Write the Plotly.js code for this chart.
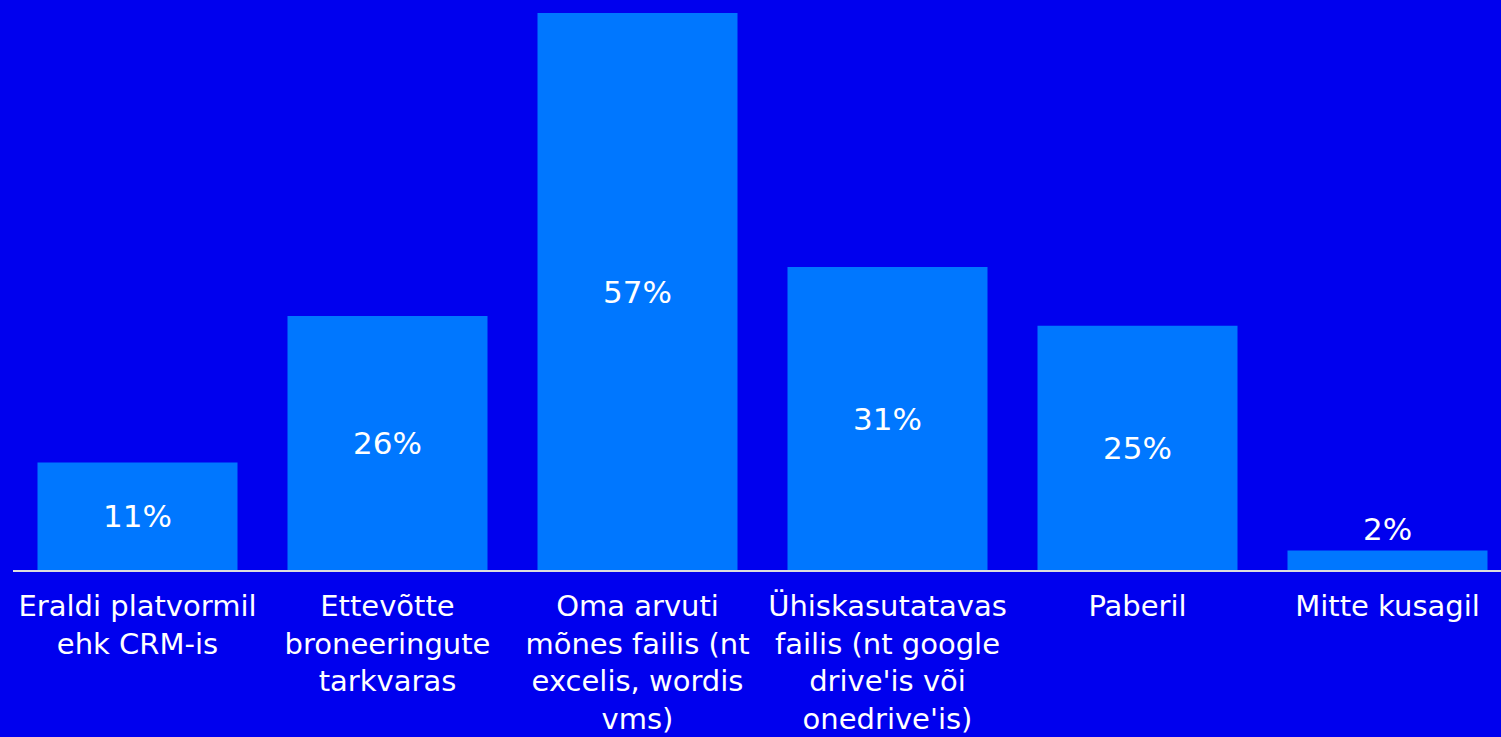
<!DOCTYPE html>
<html>
<head>
<meta charset="utf-8">
<script src="https://cdn.plot.ly/plotly-3.0.1.min.js"></script>
<style>html,body{margin:0;padding:0;background:#0000EE;}#chart{width:1501px;height:737px;}</style>
</head>
<body>
<div id="chart"></div>
<script>
const categories = [
  "Eraldi platvormil<br>ehk CRM-is",
  "Ettevõtte<br>broneeringute<br>tarkvaras",
  "Oma arvuti<br>mõnes failis (nt<br>excelis, wordis<br>vms)",
  "Ühiskasutatavas<br>failis (nt google<br>drive'is või<br>onedrive'is)",
  "Paberil",
  "Mitte kusagil"
];
const values = [11, 26, 57, 31, 25, 2];
const labels = values.map(v => v + "%");

const FONT = "'DejaVu Sans', 'Open Sans', sans-serif";

const trace = {
  type: "bar",
  x: categories,
  y: values,
  text: labels,
  texttemplate: "%{text}",
  textposition: values.map(v => v < 5 ? "outside" : "inside"),
  insidetextanchor: "middle",
  constraintext: "none",
  cliponaxis: false,
  textfont: {color: "#ffffff", size: 31, family: FONT},
  marker: {color: "#0077FF", line: {width: 0}},
  width: 0.8,
  hoverinfo: "none"
};

const layout = {
  width: 1501,
  height: 737,
  margin: {l: 13, r: 0, t: 13, b: 167, pad: 0},
  paper_bgcolor: "#0000EE",
  plot_bgcolor: "#0000EE",
  showlegend: false,
  font: {family: FONT, color: "#ffffff"},
  xaxis: {
    type: "category",
    range: [-0.498, 5.454],
    showline: true,
    linecolor: "#dddddd",
    linewidth: 2,
    showgrid: false,
    zeroline: false,
    ticks: "outside",
    ticklen: 9,
    tickcolor: "rgba(0,0,0,0)",
    tickangle: 0,
    tickfont: {size: 29, color: "#ffffff", family: FONT}
  },
  yaxis: {
    range: [0, 57],
    visible: false,
    showgrid: false,
    zeroline: false
  }
};

Plotly.newPlot("chart", [trace], layout, {staticPlot: true, displayModeBar: false});
</script>
</body>
</html>
